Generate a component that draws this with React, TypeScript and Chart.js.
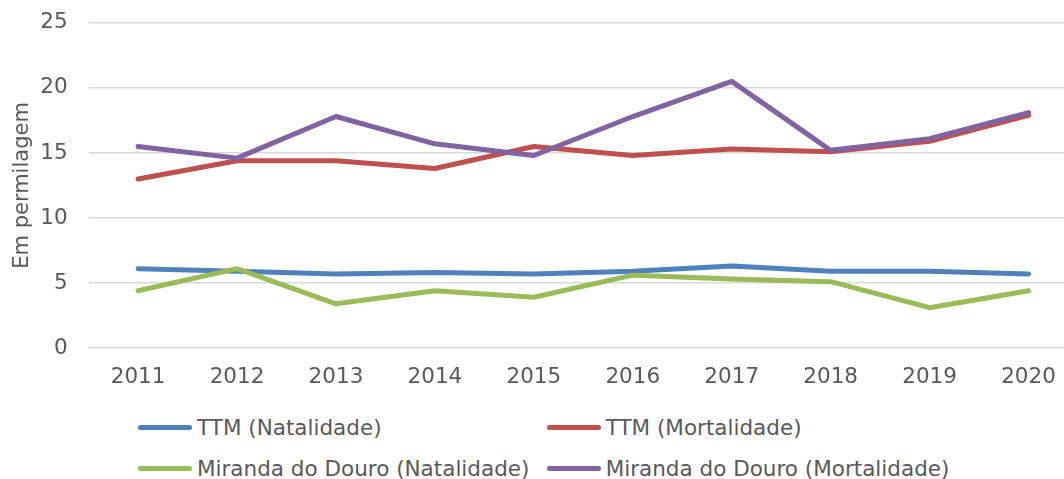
import React, { useEffect, useRef } from "react";
import { Chart, registerables } from "chart.js";

Chart.register(...registerables);

const years = ["2011", "2012", "2013", "2014", "2015", "2016", "2017", "2018", "2019", "2020"];
const ttmNatalidade = [6.1, 5.9, 5.7, 5.8, 5.7, 5.9, 6.3, 5.9, 5.9, 5.7];
const ttmMortalidade = [13.0, 14.4, 14.4, 13.8, 15.5, 14.8, 15.3, 15.1, 15.9, 17.9];
const mdNatalidade = [4.4, 6.1, 3.4, 4.4, 3.9, 5.6, 5.3, 5.1, 3.1, 4.4];
const mdMortalidade = [15.5, 14.6, 17.8, 15.7, 14.8, 17.8, 20.5, 15.2, 16.1, 18.1];
const yTicks = [0, 5, 10, 15, 20, 25];
const seriesLabels = [
  "TTM (Natalidade)",
  "TTM (Mortalidade)",
  "Miranda do Douro (Natalidade)",
  "Miranda do Douro (Mortalidade)",
];
const seriesColors = ["#4F81BD", "#C0504D", "#9BBB59", "#8064A2"];
const seriesData = [ttmNatalidade, ttmMortalidade, mdNatalidade, mdMortalidade];
const drawOrder = [3, 2, 1, 0];

const FONT = "'DejaVu Sans', Verdana, sans-serif";
const TEXT = "#595959";
const FS = 21.5;

export default function App() {
  const ref = useRef<HTMLCanvasElement | null>(null);

  useEffect(() => {
    if (!ref.current) return;
    const chart = new Chart(ref.current, {
      type: "line",
      data: {
        labels: years,
        datasets: seriesData.map((d, i) => ({
          label: seriesLabels[i],
          data: d,
          borderColor: seriesColors[i],
          backgroundColor: seriesColors[i],
          borderWidth: 5,
          borderCapStyle: "round" as const,
          borderJoinStyle: "round" as const,
          pointRadius: 0,
          tension: 0,
          order: drawOrder[i],
        })),
      },
      options: {
        animation: false,
        responsive: false,
        maintainAspectRatio: false,
        layout: { padding: { top: 1, right: 0, bottom: 1, left: 0 } },
        plugins: {
          legend: { display: false },
          tooltip: { enabled: false },
        },
        scales: {
          x: {
            offset: true,
            afterFit: (scale: any) => {
              scale.height = 41;
            },
            grid: { display: false, drawTicks: false },
            border: { display: false },
            ticks: {
              color: TEXT,
              font: { family: FONT, size: FS },
              padding: 17,
              maxRotation: 0,
            },
          },
          y: {
            min: 0,
            max: 25,
            afterBuildTicks: (scale: any) => {
              scale.ticks = yTicks.map((v) => ({ value: v }));
            },
            afterFit: (scale: any) => {
              scale.width = 88.6;
            },
            grid: { color: "#D9D9D9", lineWidth: 1.5, drawTicks: false },
            border: { display: false },
            ticks: {
              color: TEXT,
              font: { family: FONT, size: FS },
              padding: 21,
            },
            title: {
              display: true,
              text: "Em permilagem",
              color: TEXT,
              font: { family: FONT, size: 21 },
              padding: { top: 10, bottom: 0 },
            },
          },
        },
      },
    });
    return () => chart.destroy();
  }, []);

  const legendCols = [138, 546.7];
  const legendRows = [427, 468];

  return (
    <div
      style={{
        position: "fixed",
        left: 0,
        top: 0,
        width: 1064,
        height: 479,
        overflow: "hidden",
        background: "#fff",
      }}
    >
      <canvas
        ref={ref}
        width={1078}
        height={401}
        style={{ position: "absolute", left: 0, top: -11, width: 1078, height: 401 }}
      />
      {seriesLabels.map((lab, i) => (
        <div
          key={lab}
          style={{
            position: "absolute",
            left: legendCols[i % 2],
            top: legendRows[Math.floor(i / 2)] - 15,
            height: 30,
            display: "flex",
            alignItems: "center",
            whiteSpace: "nowrap",
            fontFamily: FONT,
            fontSize: FS,
            color: TEXT,
          }}
        >
          <span
            style={{
              display: "inline-block",
              width: 54,
              height: 5,
              borderRadius: 2.5,
              background: seriesColors[i],
              marginRight: 5,
            }}
          />
          <span>{lab}</span>
        </div>
      ))}
    </div>
  );
}
